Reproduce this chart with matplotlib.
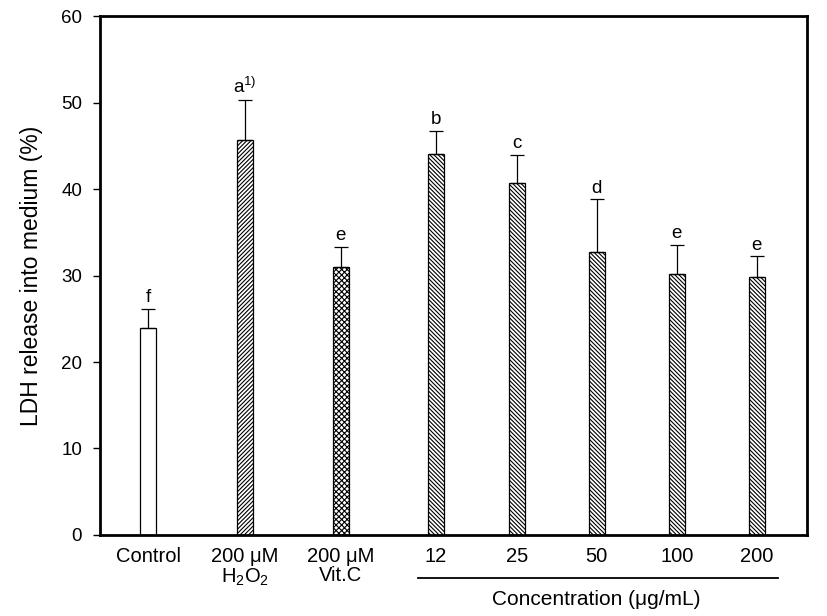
import numpy as np
import matplotlib
matplotlib.use('Agg')
from matplotlib import pyplot as plt
from matplotlib.lines import Line2D

plt.rcParams['font.family'] = ['Liberation Sans', 'DejaVu Sans']
plt.rcParams['mathtext.fontset'] = 'custom'
plt.rcParams['mathtext.rm'] = 'Liberation Sans'
plt.rcParams['mathtext.it'] = 'Liberation Sans'
plt.rcParams['hatch.linewidth'] = 0.8

# data
groups = ['Control', '200 \u03bcM\nH$_2$O$_2$', '200 \u03bcM\nVit.C', '12', '25', '50', '100', '200']
ldh = [23.9, 45.7, 31.0, 44.0, 40.7, 32.7, 30.2, 29.8]
sd = [2.2, 4.6, 2.3, 2.7, 3.2, 6.1, 3.3, 2.4]
letters = ['f', 'a$^{1)}$', 'e', 'b', 'c', 'd', 'e', 'e']
hatches = ['', '////////', 'xxxxxx', '\\\\\\\\\\\\\\\\', '\\\\\\\\\\\\\\\\', '\\\\\\\\\\\\\\\\', '\\\\\\\\\\\\\\\\', '\\\\\\\\\\\\\\\\']

# layout: bar centres (first three groups spaced wider)
xpos = [0.6, 1.81, 3.01, 4.2, 5.21, 6.21, 7.21, 8.21]

fig = plt.figure(figsize=(8.27, 6.16), dpi=100)
ax = fig.add_axes([0.121, 0.1315, 0.855, 0.8425])

for i in range(len(ldh)):
    ax.bar(xpos[i], ldh[i], width=0.2, color='white', edgecolor='black',
           linewidth=0.9, hatch=hatches[i], zorder=2)
ax.errorbar(xpos, ldh, yerr=[np.zeros(len(sd)), sd], fmt='none', ecolor='black',
            elinewidth=0.9, capsize=4.7, capthick=0.9, zorder=3)

for i in range(len(ldh)):
    ax.annotate(letters[i], (xpos[i], ldh[i] + sd[i]), xytext=(0, 2),
                textcoords='offset points', ha='center', va='bottom', fontsize=13.5)

ax.set_xlim(0, 8.84)
ax.set_ylim(0, 60)
ax.set_yticks(range(0, 61, 10))
ax.set_xticks(xpos)
ax.set_xticklabels(groups, fontsize=14.5, linespacing=1.0)
ax.tick_params(axis='x', length=0, pad=9)
ax.tick_params(axis='y', direction='out', length=5, width=1, labelsize=13.5, pad=8)
ax.set_ylabel('LDH release into medium (%)', fontsize=16.5, labelpad=13)
for s in ax.spines.values():
    s.set_linewidth(2)

# concentration bracket
tr = ax.get_xaxis_transform()
ax.add_line(Line2D([3.98, 8.47], [-0.083, -0.083], transform=tr, color='black',
                   linewidth=1.3, clip_on=False))
ax.text(6.2, -0.125, 'Concentration (\u03bcg/mL)', transform=tr, ha='center',
        va='center', fontsize=15)

plt.savefig('out.png', dpi=100)
